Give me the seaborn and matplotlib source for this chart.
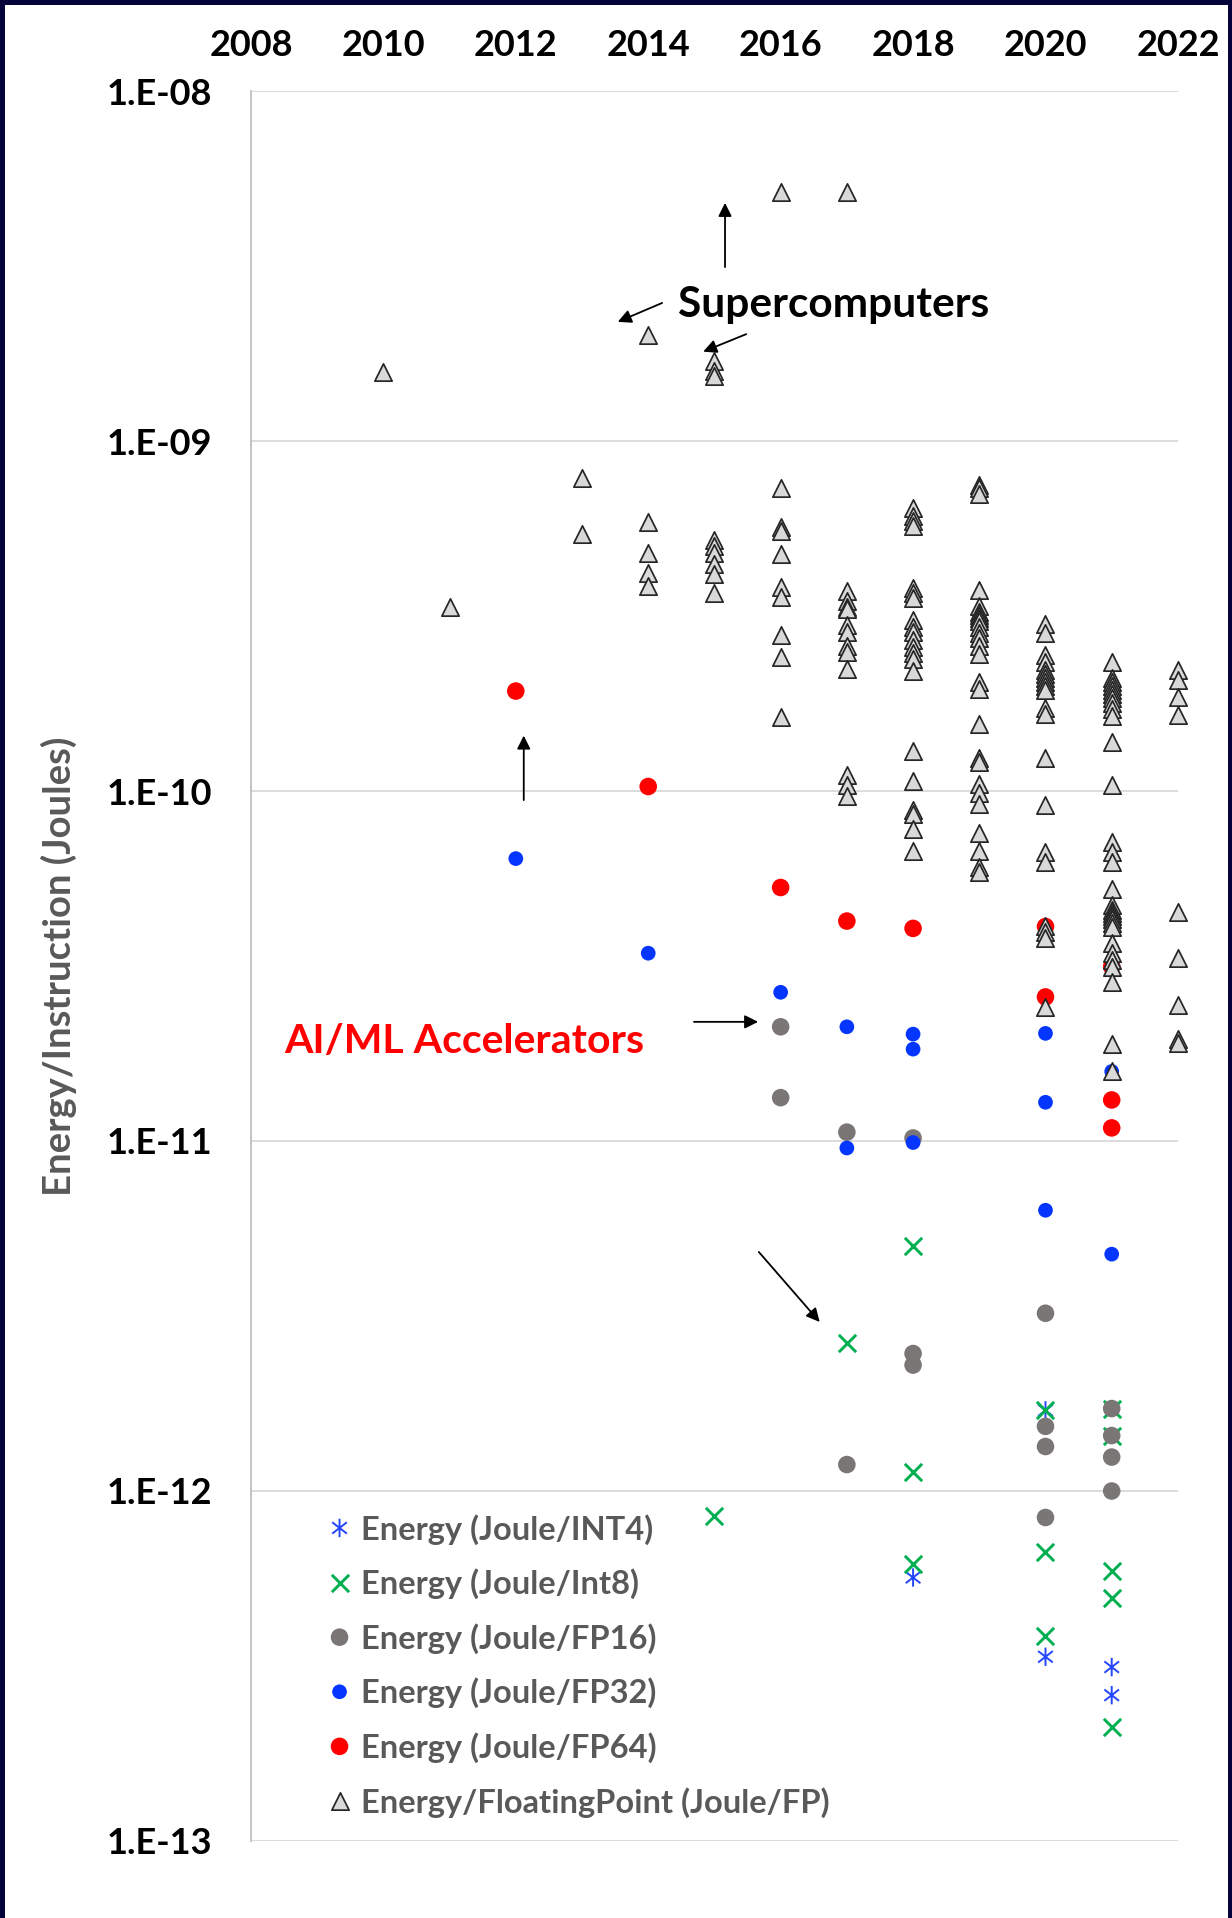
import numpy as np
import pandas as pd
import matplotlib
matplotlib.use("Agg")
import matplotlib.pyplot as plt
from matplotlib.path import Path
from matplotlib.markers import MarkerStyle
from matplotlib.patches import Rectangle
from matplotlib.ticker import FixedLocator, LogLocator, NullFormatter
import seaborn as sns

# ---------------------------------------------------------------------------
# Data: energy per operation (Joules), grouped by year for each number format
# ---------------------------------------------------------------------------
year_ticks = [2008, 2010, 2012, 2014, 2016, 2018, 2020, 2022]
decades = [1e-13, 1e-12, 1e-11, 1e-10, 1e-9, 1e-8]

int4_energy = {
    2018: [5.66e-13],
    2020: [1.70e-12, 3.36e-13],
    2021: [3.14e-13, 2.61e-13],
}

int8_energy = {
    2015: [8.5e-13],
    2017: [2.64e-12],
    2018: [5.02e-12, 1.13e-12, 6.18e-13],
    2020: [1.70e-12, 6.71e-13, 3.84e-13],
    2021: [1.72e-12, 1.44e-12, 5.91e-13, 4.93e-13, 2.12e-13],
}

fp16_energy = {
    2016: [2.12e-11, 1.33e-11],
    2017: [1.06e-11, 1.19e-12],
    2018: [1.02e-11, 2.47e-12, 2.29e-12],
    2020: [3.22e-12, 1.53e-12, 1.34e-12, 8.4e-13],
    2021: [1.72e-12, 1.44e-12, 1.25e-12, 1.0e-12],
}

fp32_energy = {
    2012: [6.41e-11],
    2014: [3.44e-11],
    2016: [2.66e-11],
    2017: [2.12e-11, 9.55e-12],
    2018: [2.02e-11, 1.83e-11, 9.9e-12],
    2020: [2.03e-11, 1.29e-11, 6.34e-12],
    2021: [1.58e-11, 4.75e-12],
}

fp64_energy = {
    2012: [1.93e-10],
    2014: [1.03e-10],
    2016: [5.30e-11],
    2017: [4.25e-11],
    2018: [4.05e-11],
    2020: [4.1e-11, 2.58e-11],
    2021: [3.15e-11, 1.31e-11, 1.09e-11],
}

fp_energy = {
    2010: [1.57e-9],
    2011: [3.36e-10],
    2013: [7.83e-10, 5.43e-10],
    2014: [2.01e-9, 5.88e-10, 4.78e-10, 4.19e-10, 3.85e-10],
    2015: [1.69e-9, 1.58e-9, 1.53e-9, 5.2e-10, 5.0e-10, 4.8e-10, 4.45e-10,
           4.17e-10, 3.68e-10],
    2016: [5.14e-9, 7.34e-10, 5.68e-10, 5.53e-10, 4.77e-10, 3.82e-10, 3.58e-10,
           2.79e-10, 2.42e-10, 1.63e-10],
    2017: [5.14e-9, 3.72e-10, 3.50e-10, 3.36e-10, 3.31e-10, 2.99e-10, 2.85e-10,
           2.60e-10, 2.50e-10, 2.23e-10, 1.11e-10, 1.04e-10, 9.7e-11],
    2018: [6.45e-10, 6.1e-10, 5.9e-10, 5.7e-10, 3.81e-10, 3.67e-10, 3.55e-10,
           3.08e-10, 2.95e-10, 2.85e-10, 2.7e-10, 2.58e-10, 2.48e-10, 2.38e-10,
           2.2e-10, 1.30e-10, 1.07e-10, 8.8e-11, 8.6e-11, 7.77e-11, 6.74e-11],
    2019: [7.51e-10, 7.32e-10, 7.05e-10, 3.76e-10, 3.38e-10, 3.25e-10, 3.18e-10,
           3.13e-10, 3.05e-10, 2.95e-10, 2.83e-10, 2.73e-10, 2.60e-10, 2.46e-10,
           2.05e-10, 1.96e-10, 1.55e-10, 1.24e-10, 1.21e-10, 1.05e-10, 9.85e-11,
           9.2e-11, 7.6e-11, 6.76e-11, 6.05e-11, 5.88e-11],
    2020: [3.0e-10, 2.82e-10, 2.44e-10, 2.33e-10, 2.22e-10, 2.16e-10, 2.11e-10,
           2.05e-10, 1.99e-10, 1.94e-10, 1.73e-10, 1.66e-10, 1.24e-10, 9.14e-11,
           6.7e-11, 6.28e-11, 4.11e-11, 3.96e-11, 3.8e-11, 2.42e-11],
    2021: [2.34e-10, 2.11e-10, 2.05e-10, 2.0e-10, 1.94e-10, 1.89e-10, 1.84e-10,
           1.78e-10, 1.72e-10, 1.64e-10, 1.38e-10, 1.04e-10, 7.15e-11, 6.71e-11,
           6.28e-11, 5.24e-11, 4.72e-11, 4.57e-11, 4.47e-11, 4.39e-11, 4.3e-11,
           4.19e-11, 4.08e-11, 3.67e-11, 3.45e-11, 3.29e-11, 3.15e-11, 2.85e-11,
           1.89e-11, 1.58e-11],
    2022: [2.21e-10, 2.07e-10, 1.85e-10, 1.65e-10, 4.51e-11, 3.33e-11, 2.44e-11,
           1.96e-11, 1.9e-11],
}


def to_frame(series):
    rows = [(yr, v) for yr, vals in series.items() for v in vals]
    return pd.DataFrame(rows, columns=["year", "energy"])


# asterisk marker: vertical stroke crossed by an X
asterisk_path = Path(
    [(0, -1), (0, 1), (-0.8, -0.62), (0.8, 0.62), (-0.8, 0.62), (0.8, -0.62)],
    [Path.MOVETO, Path.LINETO, Path.MOVETO, Path.LINETO, Path.MOVETO, Path.LINETO],
)
asterisk = MarkerStyle(asterisk_path, fillstyle="none")

series_styles = [
    ("Energy (Joule/INT4)", int4_energy,
     dict(marker=asterisk, s=175, color="#2446ff", linewidth=1.4)),
    ("Energy (Joule/Int8)", int8_energy,
     dict(marker="x", s=155, color="#00b050", linewidth=2.1)),
    ("Energy (Joule/FP16)", fp16_energy,
     dict(marker="o", s=160, color="#7a7676", edgecolor="none", linewidth=0)),
    ("Energy (Joule/FP32)", fp32_energy,
     dict(marker="o", s=112, color="#0536ff", edgecolor="none", linewidth=0)),
    ("Energy (Joule/FP64)", fp64_energy,
     dict(marker="o", s=160, color="#ff0000", edgecolor="none", linewidth=0)),
    ("Energy/FloatingPoint (Joule/FP)", fp_energy,
     dict(marker="^", s=155, color="#d9d9d9", edgecolor="#262626", linewidth=1.25)),
]

# ---------------------------------------------------------------------------
# Figure
# ---------------------------------------------------------------------------
sns.set_style("white")
plt.rcParams["font.family"] = ["Lato", "DejaVu Sans"]

fig = plt.figure(figsize=(12.32, 19.18), dpi=100)
ax = fig.add_axes([0.2037, 0.04015, 0.7524, 0.9124])
ax.set_yscale("log")

for z, (label, series, style) in enumerate(series_styles):
    sns.scatterplot(data=to_frame(series), x="year", y="energy", ax=ax,
                    label=label, clip_on=False, zorder=3 + z, legend=False,
                    **style)

ax.set_xlim(2008, 2022)
ax.set_ylim(1e-13, 1e-8)

# top year axis
ax.xaxis.tick_top()
ax.set_xticks(year_ticks, labels=[str(y) for y in year_ticks],
              fontsize=26, fontweight="bold")
ax.tick_params(axis="x", length=0, pad=21, labelcolor="black")
ax.set_xlabel("")

# logarithmic energy axis
ax.yaxis.set_major_locator(FixedLocator(decades))
ax.set_yticks(decades, labels=["1.E-%02d" % round(-np.log10(d)) for d in decades],
              fontsize=26, fontweight="bold")
ax.yaxis.set_minor_locator(LogLocator(base=10, subs=np.arange(2, 10)))
ax.yaxis.set_minor_formatter(NullFormatter())
ax.tick_params(axis="y", which="major", direction="in", length=9, width=1.2,
               color="#bfbfbf", pad=28, labelcolor="black")
ax.tick_params(axis="y", which="minor", direction="in", length=7, width=1.2,
               color="#bfbfbf")
ax.set_ylabel("Energy/Instruction (Joules)", fontsize=27.5, fontweight="bold",
              color="#595959")
ax.yaxis.set_label_coords(-0.188, 0.5)

ax.set_axisbelow(True)
ax.yaxis.grid(True, which="major", color="#d9d9d9", linewidth=1.3)
ax.xaxis.grid(False)
for side in ("top", "right", "bottom"):
    ax.spines[side].set_visible(False)
ax.spines["left"].set_color("#bfbfbf")
ax.spines["left"].set_linewidth(1.3)

# call-outs
arrow = dict(arrowstyle="-|>", color="black", lw=1.3, mutation_scale=20,
             shrinkA=0, shrinkB=0)
callouts = [
    ((2015.16, 4.79e-9), (2015.16, 3.14e-9)),
    ((2013.54, 2.19e-9), (2014.21, 2.48e-9)),
    ((2014.83, 1.80e-9), (2015.48, 2.02e-9)),
    ((2012.12, 1.44e-10), (2012.12, 9.42e-11)),
    ((2015.66, 2.19e-11), (2014.69, 2.19e-11)),
    ((2016.59, 3.04e-12), (2015.67, 4.82e-12)),
]
for tip, tail in callouts:
    ax.annotate("", xy=tip, xytext=tail, arrowprops=arrow, zorder=20)

ax.text(2014.45, 2.26e-9, "Supercomputers", fontsize=30.5, fontweight="bold",
        color="black", ha="left", va="baseline", zorder=20)
ax.text(2008.5, 1.78e-11, "AI/ML Accelerators", fontsize=29.5, fontweight="bold",
        color="#ff0000", ha="left", va="baseline", zorder=20)

ax.legend(loc="upper left", bbox_to_anchor=(0.085, 0.187), frameon=False,
          prop={"weight": "bold", "size": 23.5}, labelcolor="#595959",
          handlelength=0.6, handletextpad=0.36, labelspacing=0.73,
          borderpad=0, borderaxespad=0, scatterpoints=1, scatteryoffsets=[0.5])

# dark frame around the slide
navy = "#03033a"
W, H = 1232, 1918
for x0, y0, w, h in [(0, 0, 5 / W, 1), (0, 1 - 5 / H, 1, 5 / H),
                     (1 - 4 / W, 0, 4 / W, 1)]:
    fig.add_artist(Rectangle((x0, y0), w, h, transform=fig.transFigure,
                             facecolor=navy, edgecolor="none", zorder=50))

fig.savefig("out.png", dpi=100, facecolor="white")
